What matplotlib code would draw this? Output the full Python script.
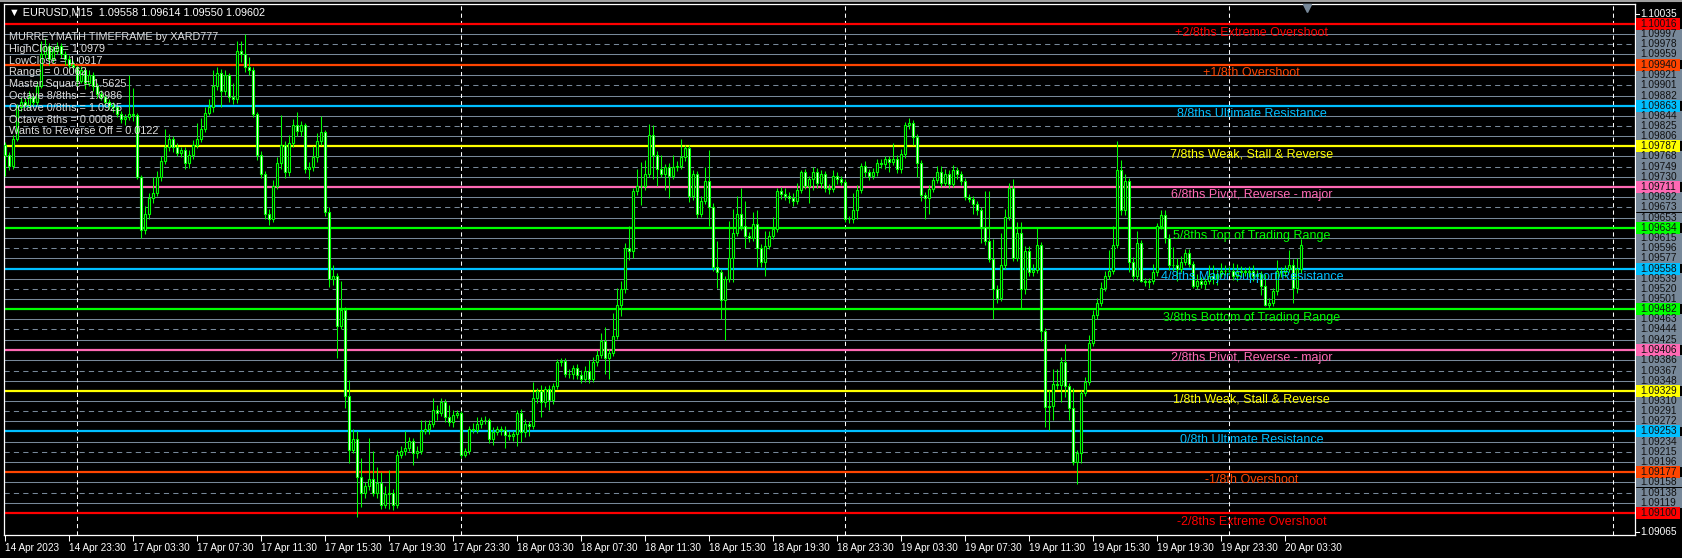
import numpy as np
import matplotlib
matplotlib.use('Agg')
import matplotlib.pyplot as plt
import matplotlib.transforms as mtransforms
from matplotlib.patches import Rectangle
from matplotlib.lines import Line2D

# EURUSD M15 candles, prices in 1e-5 above 1.09000
first_open = 790
closes = [
    770, 750, 800, 860, 870, 865, 880, 870, 900, 960,
    975, 950, 965, 975, 960, 950, 940, 935, 910, 930,
    905, 920, 900, 885, 880, 870, 862, 860, 848, 838,
    842, 848, 845, 730, 630, 660, 690, 700, 730, 760,
    785, 800, 785, 775, 780, 755, 770, 790, 800, 820,
    850, 860, 900, 925, 890, 920, 880, 875, 965, 960,
    935, 930, 848, 771, 735, 660, 650, 713, 755, 790,
    738, 793, 826, 816, 826, 745, 748, 767, 797, 813,
    664, 538, 545, 451, 480, 319, 219, 238, 167, 138,
    151, 164, 138, 157, 116, 135, 138, 116, 209, 216,
    222, 235, 212, 216, 254, 258, 267, 293, 287, 309,
    280, 270, 283, 287, 209, 216, 258, 256, 267, 274,
    274, 238, 251, 258, 256, 247, 245, 248, 287, 251,
    267, 264, 316, 329, 309, 332, 312, 338, 383, 385,
    361, 361, 371, 358, 351, 367, 351, 383, 396, 422,
    390, 400, 432, 490, 519, 596, 590, 703, 713, 713,
    735, 809, 771, 745, 735, 748, 732, 748, 751, 767,
    784, 693, 735, 661, 684, 722, 674, 561, 551, 500,
    538, 577, 625, 661, 638, 619, 616, 642, 596, 571,
    600, 619, 632, 703, 697, 693, 690, 684, 706, 738,
    713, 726, 738, 719, 735, 709, 707, 732, 726, 720,
    651, 650, 667, 706, 751, 738, 732, 738, 755, 753,
    763, 758, 763, 745, 772, 826, 830, 804, 755, 695,
    690, 707, 724, 738, 719, 735, 716, 742, 735, 722,
    692, 688, 679, 667, 635, 609, 576, 519, 503, 564,
    655, 709, 578, 625, 520, 590, 551, 556, 603, 441,
    299, 301, 341, 339, 383, 338, 296, 196, 212, 325,
    345, 419, 471, 493, 522, 545, 554, 603, 742, 667,
    722, 571, 545, 606, 535, 532, 535, 551, 638, 658,
    616, 564, 564, 558, 571, 587, 567, 525, 535, 529,
    535, 545, 538, 548, 554, 554, 554, 545, 551, 554,
    551, 554, 545, 548, 525, 490, 493, 516, 554, 551,
    558, 564, 522, 558, 602,
]
upper_wick = [
    5, 6, 8, 6, 10, 8, 10, 6, 10, 25,
    15, 6, 10, 8, 5, 6, 8, 6, 5, 8,
    5, 10, 6, 5, 8, 5, 6, 8, 5, 6,
    5, 72, 48, 5, 4, 15, 10, 30, 10, 8,
    34, 10, 6, 8, 6, 5, 10, 8, 30, 20,
    10, 15, 30, 10, 6, 10, 5, 26, 20, 20,
    37, 20, 5, 4, 8, 6, 10, 10, 12, 55,
    6, 15, 12, 25, 8, 5, 10, 20, 15, 30,
    5, 10, 20, 4, 55, 6, 30, 20, 16, 36,
    8, 77, 52, 30, 20, 15, 43, 8, 10, 10,
    32, 8, 6, 10, 20, 16, 8, 23, 10, 6,
    5, 23, 10, 6, 4, 6, 6, 10, 13, 6,
    8, 5, 10, 6, 6, 8, 6, 6, 6, 8,
    10, 6, 29, 6, 10, 6, 8, 6, 6, 5,
    6, 8, 6, 8, 10, 8, 20, 10, 10, 16,
    26, 8, 42, 32, 16, 10, 42, 6, 32, 45,
    26, 20, 17, 8, 26, 6, 8, 23, 8, 33,
    6, 6, 8, 6, 10, 26, 58, 6, 48, 6,
    6, 71, 45, 32, 48, 46, 8, 22, 25, 8,
    29, 10, 22, 6, 8, 12, 8, 10, 13, 4,
    7, 6, 10, 8, 8, 6, 8, 10, 6, 6,
    5, 6, 33, 8, 4, 8, 6, 8, 8, 8,
    6, 6, 30, 8, 10, 6, 10, 6, 6, 6,
    6, 8, 6, 12, 12, 10, 8, 10, 6, 6,
    6, 5, 5, 6, 6, 68, 94, 38, 8, 61,
    15, 10, 17, 21, 20, 10, 10, 10, 32, 5,
    6, 29, 28, 28, 10, 33, 6, 39, 7, 6,
    10, 15, 10, 10, 10, 8, 39, 35, 55, 19,
    13, 6, 8, 23, 6, 6, 6, 16, 6, 9,
    10, 6, 34, 13, 10, 8, 8, 6, 13, 8,
    6, 20, 20, 10, 14, 10, 8, 15, 15, 8,
    6, 8, 10, 8, 6, 22, 10, 6, 20, 6,
    6, 29, 12, 20, 12,
]
lower_wick = [
    38, 8, 6, 4, 6, 5, 6, 8, 5, 4,
    8, 10, 5, 6, 8, 10, 6, 8, 10, 5,
    10, 5, 10, 8, 6, 8, 6, 8, 6, 8,
    12, 6, 10, 4, 14, 8, 10, 10, 6, 8,
    6, 6, 8, 6, 8, 10, 8, 6, 6, 5,
    6, 5, 8, 8, 30, 6, 10, 8, 6, 15,
    8, 10, 6, 10, 8, 10, 10, 5, 6, 10,
    10, 6, 8, 10, 10, 8, 20, 8, 10, 8,
    8, 15, 10, 60, 6, 23, 26, 6, 74, 26,
    10, 8, 6, 10, 8, 6, 28, 10, 6, 6,
    8, 6, 22, 8, 6, 5, 10, 5, 12, 6,
    10, 6, 8, 5, 5, 4, 5, 6, 6, 8,
    8, 6, 10, 5, 10, 25, 8, 10, 23, 18,
    8, 20, 6, 10, 29, 10, 19, 8, 5, 8,
    6, 8, 10, 6, 8, 6, 8, 6, 8, 6,
    29, 39, 6, 5, 20, 6, 16, 13, 8, 36,
    8, 6, 45, 32, 6, 29, 42, 6, 8, 6,
    8, 10, 6, 8, 6, 6, 36, 8, 29, 36,
    75, 6, 45, 6, 8, 23, 8, 6, 35, 10,
    26, 6, 6, 6, 8, 6, 10, 8, 6, 6,
    6, 32, 20, 10, 10, 8, 10, 6, 10, 6,
    6, 6, 6, 16, 6, 8, 8, 6, 6, 6,
    8, 20, 6, 8, 8, 6, 6, 14, 26, 11,
    40, 29, 6, 6, 8, 6, 8, 6, 10, 8,
    5, 6, 18, 8, 29, 6, 6, 55, 10, 6,
    6, 6, 6, 6, 37, 10, 6, 6, 6, 19,
    38, 43, 27, 6, 30, 20, 22, 6, 42, 19,
    6, 6, 6, 8, 6, 6, 6, 6, 6, 8,
    8, 20, 10, 8, 3, 6, 10, 6, 6, 6,
    10, 8, 10, 23, 6, 6, 6, 3, 6, 8,
    10, 6, 8, 10, 6, 8, 8, 8, 10, 8,
    6, 8, 10, 10, 16, 3, 6, 6, 8, 8,
    8, 6, 29, 10, 8,
]

# Murrey math grid (right axis labels, top to bottom)
grid_prices = [
    1.10016, 1.09997, 1.09978, 1.09959, 1.09940, 1.09921, 1.09901, 1.09882,
    1.09863, 1.09844, 1.09825, 1.09806, 1.09787, 1.09768, 1.09749, 1.09730,
    1.09711, 1.09692, 1.09673, 1.09653, 1.09634, 1.09615, 1.09596, 1.09577,
    1.09558, 1.09539, 1.09520, 1.09501, 1.09482, 1.09463, 1.09444, 1.09425,
    1.09406, 1.09386, 1.09367, 1.09348, 1.09329, 1.09310, 1.09291, 1.09272,
    1.09253, 1.09234, 1.09215, 1.09196, 1.09177, 1.09158, 1.09138, 1.09119,
    1.09100,
]
level_names = [
    '+2/8ths Extreme Overshoot', '+1/8th Overshoot', '8/8ths Ultimate Resistance',
    '7/8ths Weak, Stall & Reverse', '6/8ths Pivot, Reverse - major',
    '5/8ths Top of Trading Range', '4/8ths Major Support/Resistance',
    '3/8ths Bottom of Trading Range', '2/8ths Pivot, Reverse - major',
    '1/8th Weak, Stall & Reverse', '0/8th Ultimate Resistance',
    '-1/8th Overshoot', '-2/8ths Extreme Overshoot',
]
level_colors = ['#ff0000', '#ff4500', '#00bfff', '#ffff00', '#ff69b4', '#00ff00', '#00bfff',
                '#00ff00', '#ff69b4', '#ffff00', '#00bfff', '#ff4500', '#ff0000']

tick_bars = [0, 16, 32, 48, 64, 80, 96, 112, 128, 144, 160, 176, 192, 208, 224, 240, 256, 272, 288, 304, 320]
tick_labels = ['14 Apr 2023', '14 Apr 23:30', '17 Apr 03:30', '17 Apr 07:30', '17 Apr 11:30',
               '17 Apr 15:30', '17 Apr 19:30', '17 Apr 23:30', '18 Apr 03:30', '18 Apr 07:30',
               '18 Apr 11:30', '18 Apr 15:30', '18 Apr 19:30', '18 Apr 23:30', '19 Apr 03:30',
               '19 Apr 07:30', '19 Apr 11:30', '19 Apr 15:30', '19 Apr 19:30', '19 Apr 23:30',
               '20 Apr 03:30']
day_breaks = [18, 114, 210, 306, 402]

header = '\u25BC EURUSD,M15  1.09558 1.09614 1.09550 1.09602'
info_lines = ['MURREYMATH TIMEFRAME by XARD777', 'HighClose = 1.0979', 'LowClose = 1.0917',
              'Range = 0.0062', 'Master Square = 1.5625', 'Octave 8/8ths = 1.0986',
              'Octave 0/8ths = 1.0925', 'Octave 8ths = 0.0008', 'Wants to Reverse Off = 0.0122']
axis_top, axis_bottom = 1.10035, 1.09065

W, H = 1682, 558
FONT = ['Liberation Sans', 'DejaVu Sans']
GRAY = '#778899'
CANDLE = '#00ff00'

fig = plt.figure(figsize=(W / 100, H / 100), dpi=100, facecolor='black')
ax = fig.add_axes([4 / W, 1 - 535 / H, (1635 - 4) / W, (535 - 4) / H], facecolor='black')

c = 1.09 + np.array(closes) / 1e5
o = np.concatenate([[1.09 + first_open / 1e5], c[:-1]])
hi = np.maximum(o, c) + np.array(upper_wick) / 1e5
lo = np.minimum(o, c) - np.array(lower_wick) / 1e5
x = np.arange(len(c))

# grid / murrey lines
for k, p in enumerate(grid_prices):
    if k % 4 == 0:
        ax.axhline(p, color=level_colors[k // 4], lw=1.6, zorder=2)
    elif k % 4 == 2:
        ax.axhline(p, color=GRAY, lw=0.75, ls=(0, (5, 4)), zorder=1)
    else:
        ax.axhline(p, color=GRAY, lw=0.75, zorder=1)

for d in day_breaks:
    ax.axvline(d, color='white', lw=0.75, ls=(0, (4, 3)), zorder=1.5)

# candles
ax.vlines(x, lo, hi, color=CANDLE, lw=0.75, zorder=3)
bull = c >= o
body_h = np.abs(c - o)
body_h = np.where(body_h < 1e-6, 1e-6, body_h)
ax.bar(x[bull], body_h[bull], bottom=o[bull], width=0.5, color='black',
       edgecolor=CANDLE, linewidth=0.8, zorder=4)
ax.bar(x[~bull], body_h[~bull], bottom=c[~bull], width=0.5, color='white',
       edgecolor=CANDLE, linewidth=0.8, zorder=4)

# level labels
px = 1.873e-5
for k in range(13):
    ax.text(311.6, grid_prices[k * 4] - 8.5 * px, level_names[k], color=level_colors[k],
            ha='center', va='center', fontsize=9, family=FONT, zorder=6)

ax.set_xlim(-0.375, 407.4)
ax.set_ylim(1.09059, 1.100535)
ax.set_yticks([])
ax.set_xticks(tick_bars)
ax.set_xticklabels(tick_labels, family=FONT)
for lab in ax.get_xticklabels():
    lab.set_ha('left')
ax.tick_params(axis='x', colors='white', length=4, width=0.75, pad=1.5, labelsize=7.2)
for s in ax.spines.values():
    s.set_color('white')
    s.set_linewidth(0.9)

# right price scale
tr = mtransforms.blended_transform_factory(fig.transFigure, ax.transData)
for k, p in enumerate(grid_prices):
    if k % 4 == 0:
        continue
    ax.add_patch(Rectangle((1636 / W, p - 5.3 * px), 46 / W, 10.6 * px, transform=tr,
                           facecolor=GRAY, edgecolor='none', clip_on=False, zorder=5))
for k, p in enumerate(grid_prices):
    if k % 4 == 0:
        ax.add_patch(Rectangle((1636 / W, p - 6 * px), 44 / W, 12 * px, transform=tr,
                               facecolor=level_colors[k // 4], edgecolor='none',
                               clip_on=False, zorder=5))
    ax.text(1640 / W, p, '%.5f' % p, transform=tr, color='#101010', fontsize=7.3,
            family=FONT, ha='left', va='center', clip_on=False, zorder=6)
for p in [axis_top, axis_bottom]:
    ax.text(1640 / W, p, '%.5f' % p, transform=tr, color='white', fontsize=7.3,
            family=FONT, ha='left', va='center', clip_on=False, zorder=6)
    ax.plot([1635 / W, 1639 / W], [p, p], color='white', lw=0.75, transform=tr, clip_on=False)

# header and info block
fig.text(9 / W, 1 - 12.5 / H, header, color='white', fontsize=7.8, family=FONT, va='center')
for n, line in enumerate(info_lines):
    fig.text(9 / W, 1 - (37 + n * 11.8) / H, line, color='#dddddd', fontsize=7.8,
             family=FONT, va='center', zorder=7)

fig.add_artist(Line2D([1307 / W], [1 - 8 / H], marker='v', color=GRAY, ms=6, lw=0))
fig.add_artist(Line2D([0, 1], [1 - 1 / H, 1 - 1 / H], color='#a0a0a0', lw=1.5))

fig.savefig('out.png', dpi=100, facecolor='black')
